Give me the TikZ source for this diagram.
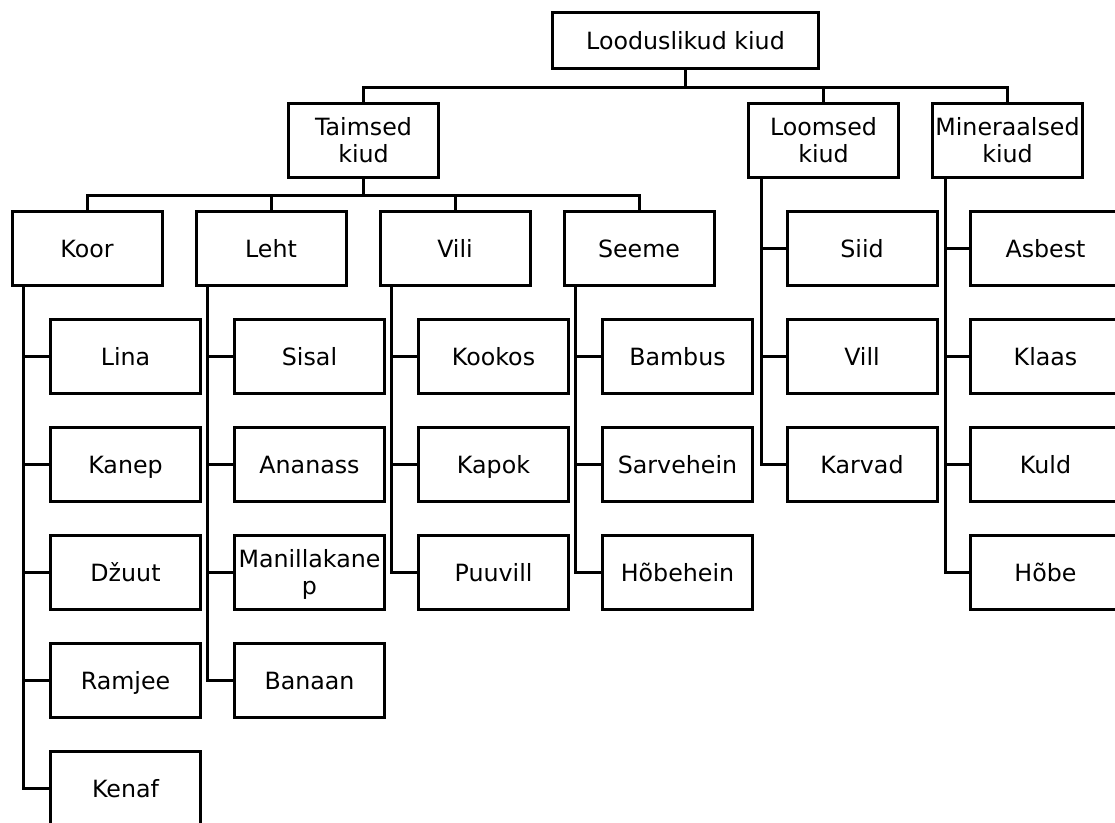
\documentclass[tikz,border=0pt]{standalone}
\usepackage{fontspec}
\setmainfont{DejaVu Sans}
\usepackage{tikz}
\usetikzlibrary{calc, positioning}
\tikzset{
  fiberBox/.style={draw, line width=2.25pt, minimum width=112.5pt, minimum height=55.5pt,
    inner sep=0pt, align=center, font=\fontsize{17.8pt}{19.8pt}\selectfont,
    text height=13pt, text depth=0pt},
  twoLine/.style={text height=32.8pt},
  rootBox/.style={fiberBox, minimum width=199.5pt, minimum height=42pt},
  link/.style={line width=2.25pt}
}

\begin{document}
\begin{tikzpicture}[x=0.75pt, y=-0.75pt]
    \clip (0,0) rectangle (1115,822);
    \fill[white] (0,0) rectangle (1115,822);

    % top levels
    \node[rootBox]  (root)        at (685.5,40.5)  {Looduslikud kiud};
    \node[fiberBox, twoLine] (taimsed)     at (363.5,140.5) {Taimsed\\kiud};
    \node[fiberBox, twoLine] (loomsed)     at (823.5,140.5) {Loomsed\\kiud};
    \node[fiberBox, twoLine] (mineraalsed) at (1007.5,140.5) {Mineraalsed\\kiud};

    \node[fiberBox] (koor)  at (87,248.5)  {Koor};
    \node[fiberBox] (leht)  at (271,248.5) {Leht};
    \node[fiberBox] (vili)  at (455,248.5) {Vili};
    \node[fiberBox] (seeme) at (639,248.5) {Seeme};

    % Koor
    \node[fiberBox] (lina)   at (125.5,356.5) {Lina};
    \node[fiberBox] (kanep)  at (125.5,464.5) {Kanep};
    \node[fiberBox] (dzuut)  at (125.5,572.5) {Džuut};
    \node[fiberBox] (ramjee) at (125.5,680.5) {Ramjee};
    \node[fiberBox] (kenaf)  at (125.5,788.5) {Kenaf};
    % Leht
    \node[fiberBox] (sisal)    at (309.5,356.5) {Sisal};
    \node[fiberBox] (ananass)  at (309.5,464.5) {Ananass};
    \node[fiberBox, twoLine] (manilla)  at (309.5,572.5) {Manillakane\\p};
    \node[fiberBox] (banaan)   at (309.5,680.5) {Banaan};
    % Vili
    \node[fiberBox] (kookos)  at (493.5,356.5) {Kookos};
    \node[fiberBox] (kapok)   at (493.5,464.5) {Kapok};
    \node[fiberBox] (puuvill) at (493.5,572.5) {Puuvill};
    % Seeme
    \node[fiberBox] (bambus)    at (677.5,356.5) {Bambus};
    \node[fiberBox] (sarvehein) at (677.5,464.5) {Sarvehein};
    \node[fiberBox] (hobehein)  at (677.5,572.5) {Hõbehein};
    % Loomsed
    \node[fiberBox] (siid)   at (862,248.5) {Siid};
    \node[fiberBox] (vill)   at (862,356.5) {Vill};
    \node[fiberBox] (karvad) at (862,464.5) {Karvad};
    % Mineraalsed
    \node[fiberBox] (asbest) at (1045.5,248.5) {Asbest};
    \node[fiberBox] (klaas)  at (1045.5,356.5) {Klaas};
    \node[fiberBox] (kuld)   at (1045.5,464.5) {Kuld};
    \node[fiberBox] (hobe)   at (1045.5,572.5) {Hõbe};

    % buses
    \draw[link] (root.south) -- ++(0,17.5) coordinate (rbus);
    \draw[link] (taimsed.north) |- (rbus) -| (mineraalsed.north);
    \draw[link] (loomsed.north) |- (rbus);
    \draw[link] (taimsed.south) -- ++(0,16.5) coordinate (tbus);
    \draw[link] (koor.north) |- (tbus) -| (seeme.north);
    \draw[link] (leht.north) |- (tbus);
    \draw[link] (vili.north) |- (tbus);

    % elbows
    \draw[link] ([xshift=10pt]koor.south west) |- (lina.west);
    \draw[link] ([xshift=10pt]koor.south west) |- (kanep.west);
    \draw[link] ([xshift=10pt]koor.south west) |- (dzuut.west);
    \draw[link] ([xshift=10pt]koor.south west) |- (ramjee.west);
    \draw[link] ([xshift=10pt]koor.south west) |- (kenaf.west);

    \draw[link] ([xshift=10pt]leht.south west) |- (sisal.west);
    \draw[link] ([xshift=10pt]leht.south west) |- (ananass.west);
    \draw[link] ([xshift=10pt]leht.south west) |- (manilla.west);
    \draw[link] ([xshift=10pt]leht.south west) |- (banaan.west);

    \draw[link] ([xshift=10pt]vili.south west) |- (kookos.west);
    \draw[link] ([xshift=10pt]vili.south west) |- (kapok.west);
    \draw[link] ([xshift=10pt]vili.south west) |- (puuvill.west);

    \draw[link] ([xshift=10pt]seeme.south west) |- (bambus.west);
    \draw[link] ([xshift=10pt]seeme.south west) |- (sarvehein.west);
    \draw[link] ([xshift=10pt]seeme.south west) |- (hobehein.west);

    \draw[link] ([xshift=11pt]loomsed.south west) |- (siid.west);
    \draw[link] ([xshift=11pt]loomsed.south west) |- (vill.west);
    \draw[link] ([xshift=11pt]loomsed.south west) |- (karvad.west);

    \draw[link] ([xshift=11pt]mineraalsed.south west) |- (asbest.west);
    \draw[link] ([xshift=11pt]mineraalsed.south west) |- (klaas.west);
    \draw[link] ([xshift=11pt]mineraalsed.south west) |- (kuld.west);
    \draw[link] ([xshift=11pt]mineraalsed.south west) |- (hobe.west);
\end{tikzpicture}
\end{document}
